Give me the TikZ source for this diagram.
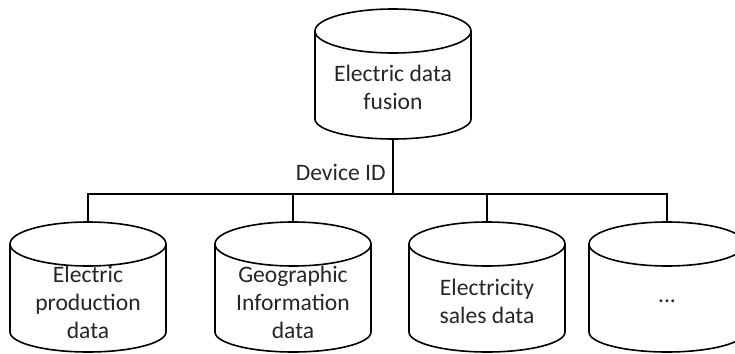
\documentclass[tikz,border=0pt]{standalone}
\usepackage{fontspec}
\setmainfont{Carlito}
\usepackage{tikz}
\usetikzlibrary{positioning}
\tikzstyle{db} = [rectangle, draw=none, outer sep=0pt, inner sep=0pt, minimum width=78pt, minimum height=65pt]
\tikzstyle{dbtext} = [align=center, font=\fontsize{11.8}{14}\selectfont, text=black!85]
\tikzstyle{line} = [line width=0.8pt, draw=black]
% Trommel um einen Knoten
\newcommand{\dbdrum}[1]{%
  \draw [line] ([yshift=-11pt]#1.north) ellipse [x radius=39pt, y radius=11pt];
  \draw [line] ([yshift=-11pt]#1.north west) -- ([yshift=10pt]#1.south west)
    arc [start angle=180, end angle=360, x radius=39pt, y radius=10pt]
    -- ([yshift=-11pt]#1.north east);
}

\begin{document}
\begin{tikzpicture}[x=0.5pt, y=-0.5pt]
  \useasboundingbox (0,0) rectangle (735,354);
  % Fusion
  \node (fusion) [db, label={[dbtext, yshift=-6.5pt]center:Electric data\\fusion}] at (393,74) {};
  % Quellen
  \node (production) [db, label={[dbtext, yshift=-7.5pt]center:Electric\\production\\data}] at (88,287) {};
  \node (geo) [db, label={[dbtext, yshift=-7.5pt]center:Geographic\\Information\\data}] at (293,287) {};
  \node (sales) [db, label={[dbtext, yshift=-7pt]center:Electricity\\sales data}] at (487,287) {};
  \node (more) [db, label={[dbtext, yshift=-7pt]center:...}] at (667,287) {};
  \foreach \n in {fusion, production, geo, sales, more}
    \dbdrum{\n};
  % Verbindungen
  \coordinate (hub) at (393,194);
  \draw [line] (fusion.south) -- node[left, dbtext, pos=0.6] {Device ID} (hub);
  \foreach \n in {production, geo, sales, more}
    \draw [line] (hub) -| (\n.north);
\end{tikzpicture}
\end{document}
